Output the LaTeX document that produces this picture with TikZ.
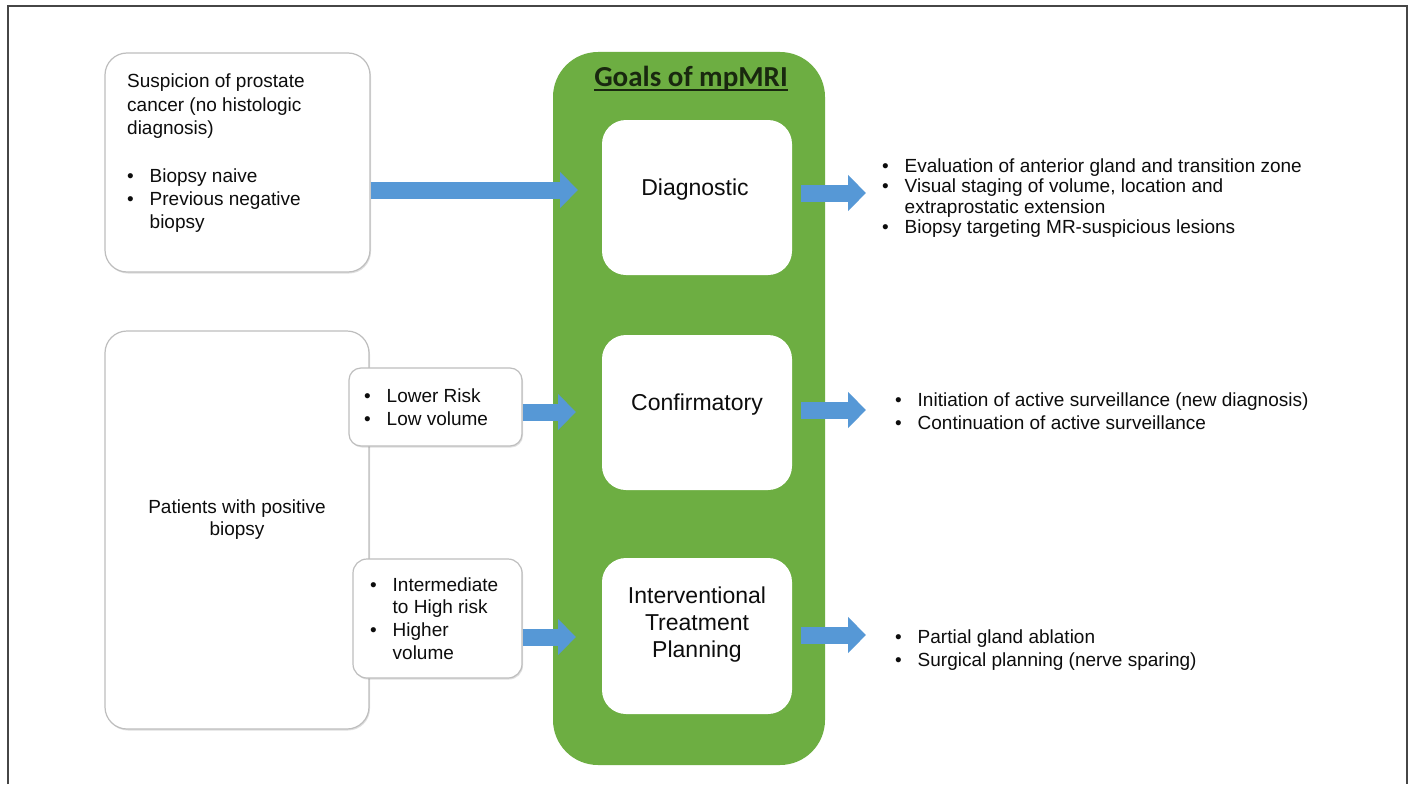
\documentclass[tikz,border=0pt]{standalone}
\usepackage{fontspec}
\setmainfont{Liberation Sans}
\newfontfamily\titlefont{Carlito}
\usetikzlibrary{arrows.meta,shadows}
\definecolor{mrigreen}{RGB}{109,174,66}
\definecolor{arrowblue}{RGB}{86,152,214}
\definecolor{boxgray}{RGB}{190,190,190}
\definecolor{titlecol}{RGB}{25,40,15}
\definecolor{framegray}{RGB}{70,70,70}
\newcommand\bu{\makebox[22.5pt][l]{\textbullet}}
\newcommand\mc[1]{\multicolumn{2}{@{}l@{}}{#1}}
\begin{document}
\begin{tikzpicture}[x=1pt,y=-1pt,
  wbox/.style={draw=boxgray, line width=1.2pt, fill=white, rounded corners=22pt,
    drop shadow={shadow xshift=1pt, shadow yshift=-1.5pt, opacity=0.25}},
  ibox/.style={fill=white, rounded corners=24pt, minimum width=190pt},
  txt/.style={inner sep=0pt, text=black!95},
  body/.style={txt, font=\fontsize{19}{#1}\selectfont},
  body/.default=23,
  head/.style={txt, align=center, font=\fontsize{23}{27}\selectfont},
  barrow/.style={draw=arrowblue, line width=17pt, -{Triangle[length=18pt,width=35pt]}}
]
\useasboundingbox (0,0) rectangle (1410,784);
\fill[white] (0,0) rectangle (1410,784);
\draw[framegray, line width=2pt] (8,784) -- (8,6) -- (1407,6) -- (1407,784);

% left boxes
\node[wbox, minimum width=265pt, minimum height=219pt] (susp) at (237.5,162.5) {};
\node[wbox, minimum width=264pt, minimum height=398pt] (pos) at (237,530) {};
\node[wbox, rounded corners=12pt, minimum width=173pt, minimum height=78pt] (low) at (435.5,407) {};
\node[wbox, rounded corners=14pt, minimum width=169pt, minimum height=119pt] (high) at (437.5,618.5) {};

% green panel
\node[fill=mrigreen, rounded corners=45pt, minimum width=272pt, minimum height=713pt] (goals) at (689,408.5) {};
\node[ibox, minimum height=155pt] (diag) at (697,197.5) {};
\node[ibox, minimum height=155pt] (conf) at (697,412.5) {};
\node[ibox, minimum height=156pt] (intv) at (697,636) {};

\node[txt, anchor=base, font=\titlefont\bfseries\fontsize{29}{34}\selectfont, text=titlecol] (title) at (691,86) {Goals of mpMRI};
\draw[titlecol, line width=2pt] ([yshift=-4pt]title.base west) -- ([yshift=-4pt]title.base east);

\node[head] (diagt) at (695,190) {Diagnostic};
\node[head] (conft) at (697,405) {Confirmatory};
\node[head] (intvt) at (697,625) {Interventional\\Treatment\\Planning};

% left texts
\node[body=23.5, anchor=base west] (susptxt) at (127,88) {\begin{tabular}[t]{@{}l@{}l@{}}
\mc{Suspicion of prostate}\\
\mc{cancer (no histologic}\\
\mc{diagnosis)}\\
&\\
\bu&Biopsy naive\\
\bu&Previous negative\\
&biopsy
\end{tabular}};
\node[body=22, align=center] (postxt) at (237,520) {Patients with positive\\biopsy};
\node[body=23, anchor=base west] (lowtxt) at (364,402) {\begin{tabular}[t]{@{}l@{}l@{}}
\bu&Lower Risk\\
\bu&Low volume
\end{tabular}};
\node[body=22.7, anchor=base west] (hightxt) at (370,591) {\begin{tabular}[t]{@{}l@{}l@{}}
\bu&Intermediate\\
&to High risk\\
\bu&Higher\\
&volume
\end{tabular}};

% right texts
\node[body=20.5, anchor=base west] (diaglist) at (882,172) {\begin{tabular}[t]{@{}l@{}l@{}}
\bu&Evaluation of anterior gland and transition zone\\
\bu&Visual staging of volume, location and\\
&extraprostatic extension\\
\bu&Biopsy targeting MR-suspicious lesions
\end{tabular}};
\node[body=23, anchor=base west] (conflist) at (895,406) {\begin{tabular}[t]{@{}l@{}l@{}}
\bu&Initiation of active surveillance (new diagnosis)\\
\bu&Continuation of active surveillance
\end{tabular}};
\node[body=23, anchor=base west] (intvlist) at (895,643) {\begin{tabular}[t]{@{}l@{}l@{}}
\bu&Partial gland ablation\\
\bu&Surgical planning (nerve sparing)
\end{tabular}};

% arrows
\coordinate (t1) at (578,190);
\coordinate (t2) at (576,412);
\coordinate (t3) at (576,637);
\coordinate (r1) at (866,193);
\coordinate (r2) at (866,410);
\coordinate (r3) at (866,635);
\draw[barrow] (susp.east |- t1) -- (t1);
\draw[barrow] (low.east |- t2) -- (t2);
\draw[barrow] (high.east |- t3) -- (t3);
\draw[barrow, shorten <=9pt] (diag.east |- r1) -- (r1);
\draw[barrow, shorten <=9pt] (conf.east |- r2) -- (r2);
\draw[barrow, shorten <=9pt] (intv.east |- r3) -- (r3);
\end{tikzpicture}
\end{document}
